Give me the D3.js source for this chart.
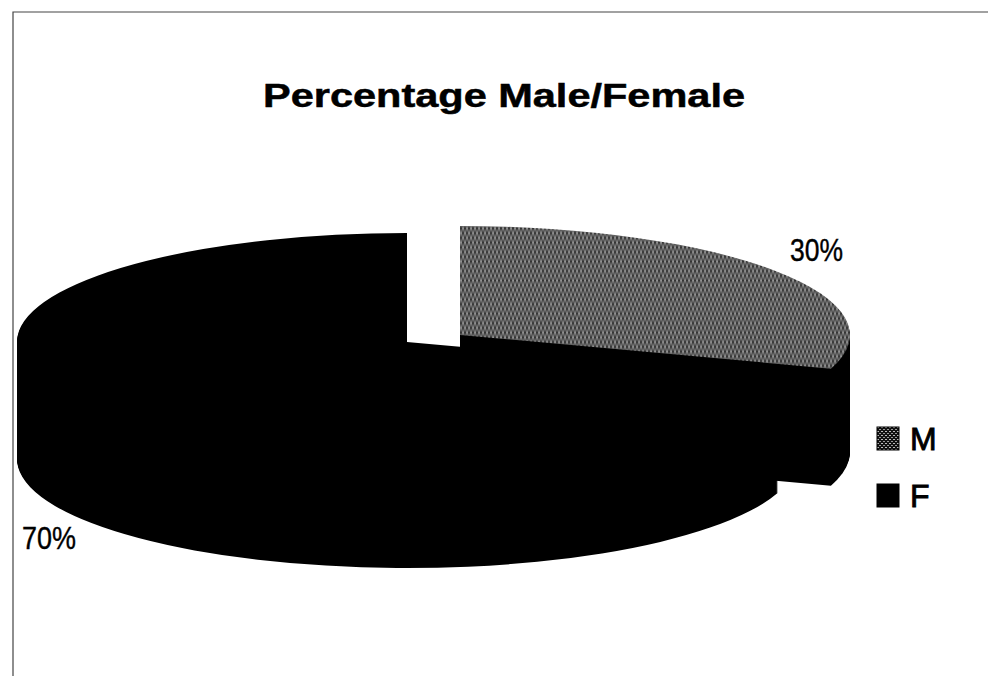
<!DOCTYPE html>
<html>
<head>
<meta charset="utf-8">
<script src="https://cdn.jsdelivr.net/npm/d3@7"></script>
<style>
  body { margin: 0; background: #fff; }
  text { font-family: "Liberation Sans", Arial, sans-serif; fill: #000; }
</style>
</head>
<body>
<svg id="canvas"></svg>
<script>
// data
const categories = ["M", "F"];
const values = [30, 70];
const labels = ["30%", "70%"];

const width = 988;
const height = 676;

const svg = d3.select("#canvas")
  .attr("width", width)
  .attr("height", height);

// halftone patterns (scan look)
const defs = svg.append("defs");
const pat = defs.append("pattern")
  .attr("id", "mPat")
  .attr("patternUnits", "userSpaceOnUse")
  .attr("width", 4).attr("height", 4);
pat.append("rect").attr("width", 4).attr("height", 4).attr("fill", "#333");
pat.append("rect").attr("x", 0).attr("y", 0).attr("width", 2).attr("height", 1).attr("fill", "#e6e6e6");
pat.append("rect").attr("x", 2).attr("y", 2).attr("width", 2).attr("height", 1).attr("fill", "#e6e6e6");
pat.append("rect").attr("x", 1).attr("y", 1).attr("width", 1).attr("height", 1).attr("fill", "#9a9a9a");
pat.append("rect").attr("x", 3).attr("y", 3).attr("width", 1).attr("height", 1).attr("fill", "#9a9a9a");

const pat2 = defs.append("pattern")
  .attr("id", "legPat")
  .attr("patternUnits", "userSpaceOnUse")
  .attr("width", 4).attr("height", 4);
pat2.append("rect").attr("width", 4).attr("height", 4).attr("fill", "#111");
pat2.append("rect").attr("width", 2).attr("height", 1).attr("fill", "#bbb");
pat2.append("rect").attr("x", 2).attr("y", 2).attr("width", 2).attr("height", 1).attr("fill", "#999");

const color = d3.scaleOrdinal()
  .domain(categories)
  .range(["url(#mPat)", "#000"]);

// frame
svg.append("path")
  .attr("d", `M13,${height} L13,12 L${width},12`)
  .attr("fill", "none")
  .attr("stroke", "#444")
  .attr("stroke-width", 1.2);

// title
svg.append("text")
  .attr("x", 263).attr("y", 107)
  .attr("textLength", 482)
  .attr("lengthAdjust", "spacingAndGlyphs")
  .style("font-size", "34px")
  .style("font-weight", "bold")
  .style("stroke", "#000")
  .style("stroke-width", 0.5)
  .text("Percentage Male/Female");

// 3D pie geometry
const rx = 390, ry = 109, depth = 117;
const cx = 407, cy = 342;
const explode = { M: [53, -7], F: [0, 0] };

const pie = d3.pie().sort(null).value(d => d.value);
const slices = pie(categories.map((c, i) => ({ key: c, value: values[i] })));
const arc = d3.arc().innerRadius(0).outerRadius(rx);

const pieG = svg.append("g");

// back slice (M) first, then front slice (F)
slices.forEach(s => {
  const [dx, dy] = explode[s.data.key];
  const g = pieG.append("g");
  // side walls: stack the slice shape downward
  g.selectAll("path.wall")
    .data(d3.range(depth, 0, -1))
    .enter()
    .append("path")
    .attr("class", "wall")
    .attr("transform", k => `translate(${cx + dx},${cy + dy + k}) scale(1,${ry / rx})`)
    .attr("d", arc(s))
    .attr("fill", "#000");
  // top face
  g.append("path")
    .attr("transform", `translate(${cx + dx},${cy + dy}) scale(1,${ry / rx})`)
    .attr("d", arc(s))
    .attr("fill", color(s.data.key));
});

// data labels
svg.append("text")
  .attr("x", 790).attr("y", 261)
  .attr("textLength", 53)
  .attr("lengthAdjust", "spacingAndGlyphs")
  .style("font-size", "31px")
  .style("stroke", "#000")
  .style("stroke-width", 0.4)
  .text(labels[0]);

svg.append("text")
  .attr("x", 22).attr("y", 549)
  .attr("textLength", 54)
  .attr("lengthAdjust", "spacingAndGlyphs")
  .style("font-size", "32px")
  .style("stroke", "#000")
  .style("stroke-width", 0.4)
  .text(labels[1]);

// legend
const legend = svg.append("g").attr("transform", "translate(877,427)");
const legendFill = d3.scaleOrdinal().domain(categories).range(["url(#legPat)", "#000"]);

legend.selectAll("rect")
  .data(categories)
  .enter()
  .append("rect")
  .attr("x", 0)
  .attr("y", (d, i) => i * 57)
  .attr("width", 22)
  .attr("height", 23)
  .attr("fill", legendFill)
  .attr("stroke", "#000")
  .attr("stroke-width", 1);

legend.selectAll("text")
  .data(categories)
  .enter()
  .append("text")
  .attr("x", 33)
  .attr("y", (d, i) => 23 + i * 57)
  .style("font-size", "32px")
  .style("stroke", "#000")
  .style("stroke-width", 0.9)
  .text(d => d);
</script>
</body>
</html>
